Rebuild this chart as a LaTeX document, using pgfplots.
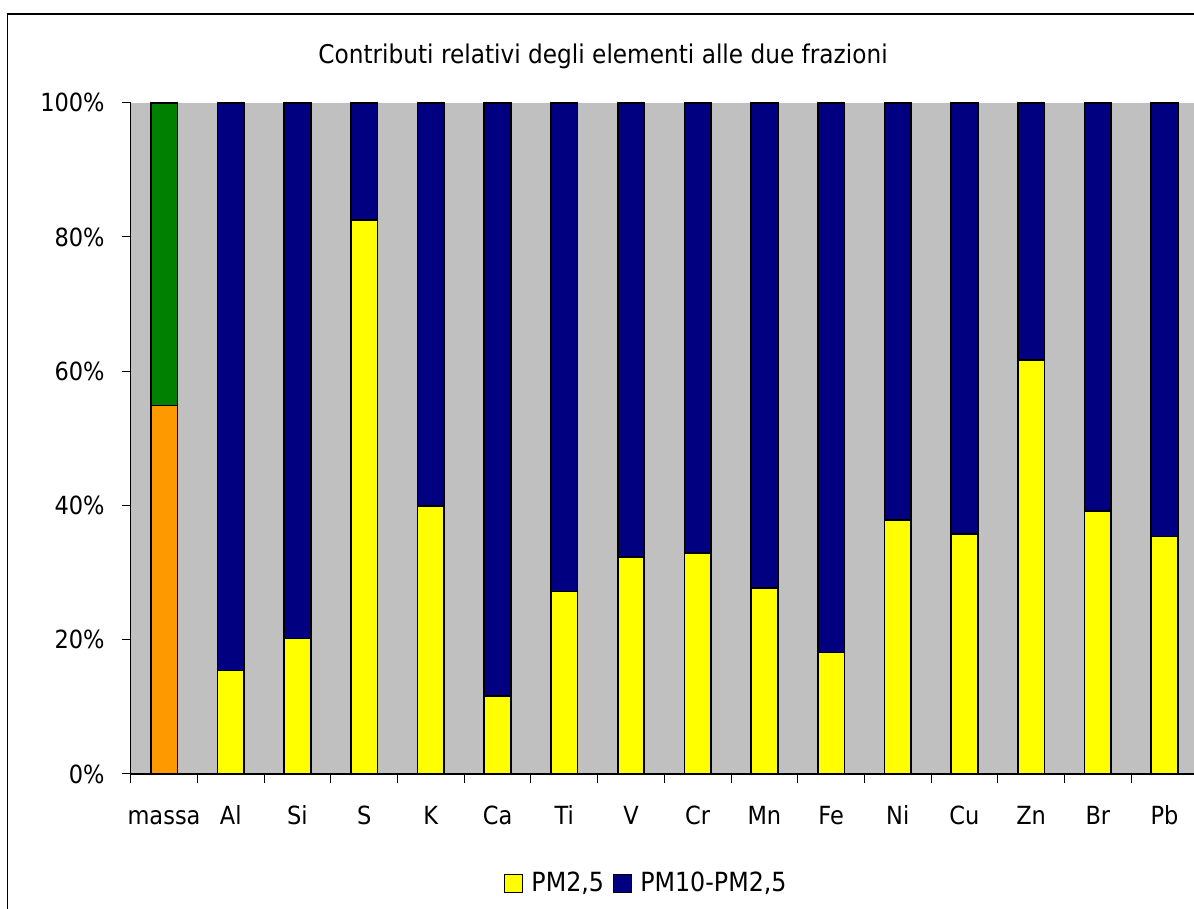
\documentclass[border=0pt]{standalone}
\usepackage{pgfplots}
\pgfplotsset{compat=1.18}
\usepackage{fontspec}
\setmainfont{DejaVu Sans}[FakeStretch=0.9]

\definecolor{cyellow}{RGB}{255,255,0}
\definecolor{cnavy}{RGB}{0,0,128}
\definecolor{corange}{RGB}{255,153,0}
\definecolor{cgreen}{RGB}{0,128,0}
\definecolor{cgray}{RGB}{192,192,192}

\begin{document}
\begin{tikzpicture}
\clip (0,0) rectangle (597pt,454.5pt);
\draw[line width=0.7pt, black] (3.75pt,-5pt) -- (3.75pt,447.5pt) -- (610pt,447.5pt);
\begin{axis}[
  at={(65.35pt,67.5pt)}, anchor=south west,
  scale only axis, width=533.6pt, height=335.65pt,
  ybar stacked, bar width=13.3pt,
  xmin=-0.5, xmax=15.5, ymin=0, ymax=100,
  axis background/.style={fill=cgray},
  axis x line*=bottom, axis y line*=left,
  axis line style={-, line width=0.6pt, black},
  tick align=outside, major tick length=4.5pt,
  tick style={black, line width=0.5pt},
  xtick={-0.5,0.5,...,15.5}, xticklabels={},
  extra x ticks={0,1,...,15},
  extra x tick labels={massa,Al,Si,S,K,Ca,Ti,V,Cr,Mn,Fe,Ni,Cu,Zn,Br,Pb},
  extra x tick style={major tick length=0pt, tick style={draw=none},
    xticklabel style={yshift=-12pt, text height=9.6pt, text depth=2.6pt}},
  ytick={0,20,40,60,80,100},
  yticklabels={0\%,20\%,40\%,60\%,80\%,100\%},
  yticklabel style={xshift=-5pt},
  tick label style={font=\fontsize{12.5pt}{15pt}\selectfont},
  /pgf/number format/assume math mode=true,
  title={Contributi relativi degli elementi alle due frazioni},
  title style={font=\fontsize{12.9pt}{16pt}\selectfont, at={(0.4426,1)}, anchor=base, yshift=13.5pt},
  every axis plot/.append style={draw=black, line width=0.85pt},
  legend style={at={(0.4837,-0.163)}, anchor=center, draw=none, fill=none,
    legend columns=2, font=\fontsize{13.2pt}{15pt}\selectfont,
    nodes={inner sep=1.5pt},
    /tikz/every odd column/.append style={column sep=2.5pt},
    /tikz/every even column/.append style={column sep=3pt}},
  legend image code/.code={\draw[#1, line width=0.6pt, draw=black] (0pt,-4.5pt) rectangle (9pt,4.5pt);},
]
\addplot[fill=cyellow] coordinates {(0,0) (1,15.4) (2,20.2) (3,82.5) (4,39.9) (5,11.6) (6,27.2) (7,32.3) (8,32.9) (9,27.7) (10,18.1) (11,37.8) (12,35.7) (13,61.7) (14,39.2) (15,35.4)};
\addlegendentry{PM2,5}
\addplot[fill=corange, forget plot] coordinates {(0,54.9) (1,0) (2,0) (3,0) (4,0) (5,0) (6,0) (7,0) (8,0) (9,0) (10,0) (11,0) (12,0) (13,0) (14,0) (15,0)};
\addplot[fill=cnavy] coordinates {(0,0) (1,84.6) (2,79.8) (3,17.5) (4,60.1) (5,88.4) (6,72.8) (7,67.7) (8,67.1) (9,72.3) (10,81.9) (11,62.2) (12,64.3) (13,38.3) (14,60.8) (15,64.6)};
\addlegendentry{PM10-PM2,5}
\addplot[fill=cgreen, forget plot] coordinates {(0,45.1) (1,0) (2,0) (3,0) (4,0) (5,0) (6,0) (7,0) (8,0) (9,0) (10,0) (11,0) (12,0) (13,0) (14,0) (15,0)};
\end{axis}
\end{tikzpicture}
\end{document}
